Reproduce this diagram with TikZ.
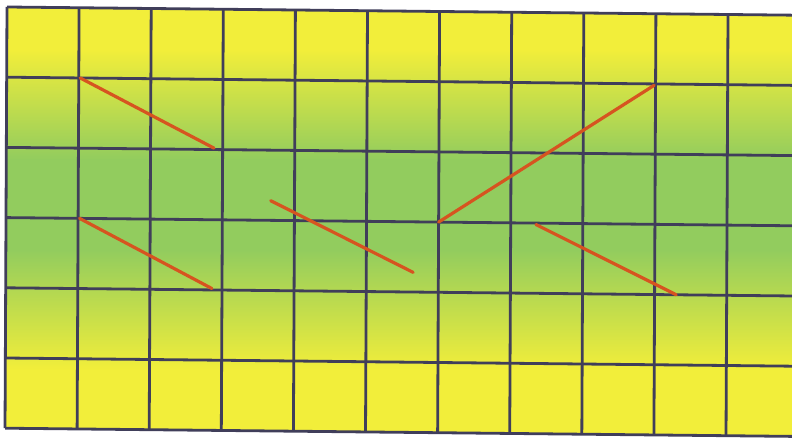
\documentclass[tikz,border=0pt]{standalone}
\usetikzlibrary{calc}
\definecolor{yel}{RGB}{242,238,58}
\definecolor{grn}{RGB}{146,204,94}
\definecolor{gridc}{RGB}{64,62,90}
\definecolor{redl}{RGB}{214,84,32}
\tikzset{
  gridline/.style={draw=gridc, line width=2.8pt},
  segline/.style={draw=redl, line width=3.2pt, line cap=round},
}
\begin{document}
\begin{tikzpicture}[x=1pt,y=-1pt]
\useasboundingbox (0,0) rectangle (792,438);
\fill[white] (0,0) rectangle (792,438);
\begin{scope}[shift={(7pt,-7pt)}, x={(72.1pt,-0.75pt)}, y={(-0.33pt,-70.2pt)}]
  \begin{scope}
    \clip (0,0) -- (11.5,0) -- (11.5,6) -- (0,6) -- cycle;
    \begin{scope}[x=1pt,y=-1pt,shift={(-7pt,7pt)}]
      \fill[yel] (-20,-20) rectangle (820,50);
      \shade[top color=yel, bottom color=grn] (-20,49.5) rectangle (820,160);
      \fill[grn] (-20,159.5) rectangle (820,250);
      \shade[top color=grn, bottom color=yel] (-20,249.5) rectangle (820,370);
      \fill[yel] (-20,369.5) rectangle (820,460);
    \end{scope}
  \end{scope}
  % grid
  \foreach \i in {0,...,10} { \draw[gridline] (\i,0) -- (\i,6); }
  \foreach \j in {0,...,6} { \draw[gridline] (0,\j) -- (11.5,\j); }
  % segment end points
  \coordinate (a1) at (1.02,1);   \coordinate (a2) at (2.88,1.98);
  \coordinate (b1) at (1.02,3);   \coordinate (b2) at (2.86,3.98);
  \coordinate (c1) at (3.67,2.72); \coordinate (c2) at (5.65,3.72);
  \coordinate (d1) at (6,3);      \coordinate (d2) at (8.98,1.02);
  \coordinate (e1) at (7.35,3.02); \coordinate (e2) at (9.3,4);
  \draw[segline] (a1) -- (a2);
  \draw[segline] (b1) -- (b2);
  \draw[segline] (c1) -- (c2);
  \draw[segline] (d1) -- (d2);
  \draw[segline] (e1) -- (e2);
\end{scope}
\end{tikzpicture}
\end{document}
